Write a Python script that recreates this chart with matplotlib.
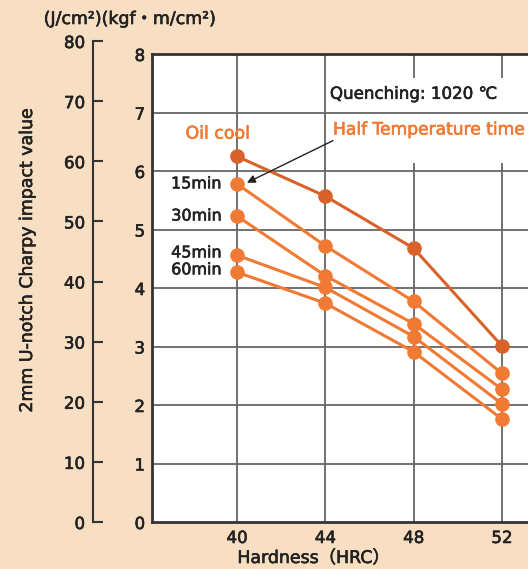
import matplotlib
matplotlib.use("Agg")
import matplotlib.pyplot as plt
import matplotlib.patheffects as pe
from matplotlib.patches import Rectangle

# Data: Charpy impact value (kgf·m/cm²) vs. hardness (HRC)
hardness = [40, 44, 48, 52]
oil_cool = [6.25, 5.57, 4.68, 3.01]
min15 = [5.78, 4.72, 3.77, 2.54]
min30 = [5.23, 4.21, 3.39, 2.27]
min45 = [4.56, 4.01, 3.17, 2.02]
min60 = [4.27, 3.74, 2.91, 1.76]
series_labels = ["15min", "30min", "45min", "60min"]
label_y = [5.78, 5.23, 4.60, 4.31]
y_ticks = [0, 1, 2, 3, 4, 5, 6, 7, 8]
j_ticks = [0, 10, 20, 30, 40, 50, 60, 70, 80]

FONT = ["DejaVu Sans", "Noto Sans CJK JP"]
plt.rcParams["font.family"] = FONT

BG = "#F8DFC3"
ORANGE = "#F07A33"
DARK_ORANGE = "#D9612A"
INK = "#222222"
GRID = "#666666"


def medium(artist, color):
    """Thicken glyph strokes slightly for a medium-weight look."""
    artist.set_path_effects([pe.withStroke(linewidth=0.45, foreground=color)])
    return artist


W, H = 528, 569
fig = plt.figure(figsize=(W / 100, H / 100), dpi=100, facecolor=BG)

# main axes (kgf·m/cm²)
left_px, top_px, bottom_px, right_px = 152, 54, 522, 560
ax = fig.add_axes([left_px / W, 1 - bottom_px / H,
                   (right_px - left_px) / W, (bottom_px - top_px) / H])
ax.set_facecolor("white")
ax.set_xlim(36.15, 54.63)
ax.set_ylim(0, 8)
ax.set_xticks(hardness)
ax.set_yticks(y_ticks)
ax.tick_params(axis="both", length=0, labelsize=12, colors=INK, pad=5)
for lab in ax.get_xticklabels() + ax.get_yticklabels():
    medium(lab, INK)
for side in ["left", "bottom", "top"]:
    ax.spines[side].set_color("#333333")
    ax.spines[side].set_linewidth(2)
ax.spines["right"].set_visible(False)

# grid lines: verticals under the white label patch, horizontals above it
for x in hardness:
    ax.axvline(x, color=GRID, lw=1.3, zorder=1)
ax.add_patch(Rectangle((44.08, 6.14), 11, 1.45, facecolor="white",
                       edgecolor="none", zorder=1.5))
for y in y_ticks[1:-1]:
    ax.axhline(y, color=GRID, lw=1.3, zorder=2)

# curves
ax.plot(hardness, oil_cool, color=DARK_ORANGE, lw=2.2, marker="o",
        ms=9.5, zorder=4, clip_on=False)
for vals in [min15, min30, min45, min60]:
    ax.plot(hardness, vals, color=ORANGE, lw=2.2, marker="o",
            ms=9.5, zorder=5, clip_on=False)

for text, y in zip(series_labels, label_y):
    medium(ax.text(39.31, y, text, ha="right", va="center", fontsize=11.5,
                   color=INK, zorder=6), INK)

medium(ax.text(39.14, 6.64, "Oil cool", ha="center", va="center",
               fontsize=12.5, color=ORANGE, zorder=6), ORANGE)
medium(ax.text(44.21, 7.32, "Quenching: 1020 ℃", ha="left", va="center",
               fontsize=12, color=INK, zorder=6), INK)
medium(ax.text(44.35, 6.71, "Half Temperature time", ha="left", va="center",
               fontsize=12.3, color=ORANGE, zorder=6), ORANGE)
ax.annotate("", xy=(40.45, 5.80), xytext=(44.35, 6.52),
            arrowprops=dict(arrowstyle="-|>", color=INK, lw=1.0,
                            mutation_scale=12, shrinkA=0, shrinkB=0),
            zorder=6)

# secondary scale (J/cm²)
sec_top = 41
ax2 = fig.add_axes([93.3 / W, 1 - bottom_px / H, 0.001,
                    (bottom_px - sec_top) / H])
ax2.patch.set_visible(False)
ax2.set_ylim(0, 80)
ax2.set_yticks(j_ticks)
ax2.set_xticks([])
for side in ["right", "top", "bottom"]:
    ax2.spines[side].set_visible(False)
ax2.spines["left"].set_color("#333333")
ax2.spines["left"].set_linewidth(1.5)
ax2.tick_params(axis="y", direction="in", length=7, width=1.5,
                color="#333333", labelsize=12, labelcolor=INK, pad=6)
for lab in ax2.get_yticklabels():
    medium(lab, INK)

medium(fig.text(314 / W, 1 - 558 / H, "Hardness（HRC）", ha="center",
                va="center", fontsize=12.5, color=INK), INK)
medium(fig.text(27 / W, 1 - 260 / H, "2mm U-notch Charpy impact value",
                rotation=90, ha="center", va="center", fontsize=12.5,
                color=INK), INK)
medium(fig.text(130 / W, 1 - 19 / H, "(J/cm²)(kgf・m/cm²)", ha="center",
                va="center", fontsize=12.5, color=INK), INK)

fig.savefig("out.png", dpi=100, facecolor=BG)
